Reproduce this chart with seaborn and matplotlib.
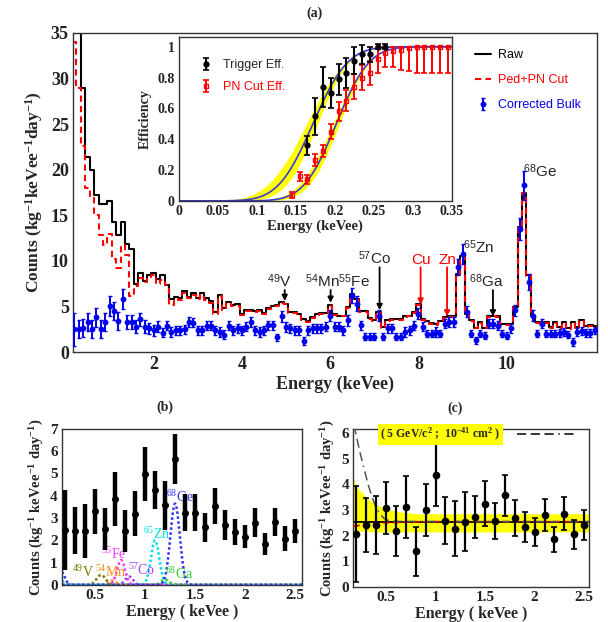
import math
import numpy as np
import pandas as pd
import matplotlib
matplotlib.use("Agg")
import matplotlib.pyplot as plt
import seaborn as sns
from matplotlib.lines import Line2D
from matplotlib.ticker import MultipleLocator, FuncFormatter, FixedLocator

# ---------------- data: panel (a) spectrum, 0.1 keVee bins ----------------
BIN_START, BIN_WIDTH, N_BINS = 0.2, 0.1, 119
raw_counts = [
    38, 38, 29, 21.4, 20.0, 17.2, 16.2, 16.2, 16.6, 14.3,
    12.8, 14.3, 11.8, 11.3, 7.5, 8.7, 7.8, 8.4, 8.7, 8.0,
    8.4, 7.4, 5.8, 6.0, 5.9, 6.7, 6.0, 6.5, 5.9, 6.5,
    5.9, 5.6, 4.4, 6.3, 4.8, 5.5, 5.2, 5.3, 4.2, 4.6,
    4.6, 4.5, 4.6, 4.3, 4.8, 5.0, 5.2, 5.5, 5.3, 4.4,
    4.4, 4.2, 3.6, 3.4, 3.8, 4.2, 4.3, 4.3, 5.2, 4.2,
    4.0, 4.0, 4.9, 6.4, 5.8, 4.5, 4.5, 3.7, 3.5, 4.4,
    2.7, 3.5, 3.6, 3.6, 3.6, 3.9, 4.0, 4.4, 5.3, 3.6,
    3.4, 3.2, 3.1, 3.4, 3.8, 3.9, 3.9, 8.6, 10.5, 4.2,
    3.5, 2.6, 3.3, 2.6, 3.9, 4.0, 3.9, 3.1, 3.1, 3.1,
    4.9, 13.7, 17.5, 8.4, 3.9, 3.3, 3.1, 3.3, 2.7, 3.3,
    2.7, 3.3, 2.6, 3.3, 2.7, 3.5, 2.9, 3.0, 2.9]
cut_counts = [
    34, 29, 22.6, 18.0, 17.0, 15.0, 12.8, 11.7, 13.0, 10.2,
    9.2, 11.7, 10.6, 6.2, 7.2, 8.1, 7.7, 8.2, 8.4, 7.5,
    7.9, 7.3, 5.2, 5.8, 5.7, 6.5, 5.9, 6.3, 5.8, 6.3,
    5.7, 5.4, 4.2, 6.1, 4.6, 5.4, 5.0, 5.1, 4.1, 4.5,
    4.5, 4.4, 4.5, 4.2, 4.7, 4.9, 5.1, 5.4, 5.3, 4.3,
    4.3, 4.1, 3.5, 3.3, 3.7, 4.1, 4.2, 4.2, 5.1, 4.1,
    3.9, 4.0, 4.8, 6.3, 5.7, 4.4, 4.4, 3.6, 3.4, 4.3,
    2.6, 3.4, 3.5, 3.5, 3.5, 3.8, 3.9, 4.3, 5.2, 3.5,
    3.3, 3.1, 3.0, 3.3, 3.7, 3.8, 3.8, 8.5, 10.4, 4.1,
    3.4, 2.6, 3.2, 2.6, 3.8, 3.9, 3.8, 3.0, 3.0, 3.0,
    4.8, 13.6, 17.4, 8.3, 3.8, 3.2, 3.1, 3.2, 2.6, 3.2,
    2.6, 3.2, 2.5, 3.2, 2.6, 3.4, 2.8, 2.9, 2.8]
bulk_counts = [
    2.5, 2.5, 2.6, 3.3, 2.5, 3.8, 2.5, 3.3, 5.0, 4.5,
    3.4, 5.8, 3.3, 3.3, 2.8, 3.6, 2.8, 2.6, 2.4, 2.8,
    2.1, 2.9, 2.2, 2.4, 2.4, 2.5, 3.3, 3.2, 2.4, 2.4,
    2.9, 2.9, 2.4, 2.2, 1.9, 2.9, 2.4, 2.6, 2.4, 2.8,
    3.3, 2.4, 2.2, 2.4, 2.95, 2.95, 1.6, 3.9, 2.75, 2.6,
    2.4, 2.4, 1.2, 2.4, 2.6, 2.6, 2.6, 2.8, 4.0, 2.8,
    2.8, 2.4, 3.5, 6.2, 5.3, 2.95, 1.7, 1.7, 1.7, 4.0,
    1.7, 2.6, 2.6, 1.7, 1.7, 2.2, 2.4, 2.9, 4.2, 2.8,
    2.0, 2.0, 2.2, 2.0, 3.1, 3.3, 3.3, 9.3, 10.8, 4.4,
    2.0, 1.3, 2.0, 1.8, 3.1, 3.1, 2.9, 2.0, 1.8, 2.6,
    4.6, 13.5, 18.3, 7.7, 4.0, 2.0, 3.1, 2.0, 2.0, 2.0,
    2.1, 2.2, 1.9, 1.1, 2.2, 2.3, 2.1, 2.1, 2.4]
bulk_err = [
    1.8, 1.0, 1.0, 1.0, 1.0, 1.0, 1.0, 1.0, 1.1, 1.0,
    1.0, 1.1, 0.8, 0.8, 0.7, 0.7, 0.7, 0.6, 0.6, 0.6,
    0.5, 0.5, 0.5, 0.5, 0.5, 0.5, 0.5, 0.5, 0.5, 0.5,
    0.5, 0.5, 0.5, 0.5, 0.5, 0.5, 0.5, 0.5, 0.5, 0.5,
    0.5, 0.5, 0.5, 0.5, 0.5, 0.5, 0.4, 0.6, 0.5, 0.5,
    0.5, 0.5, 0.4, 0.5, 0.5, 0.5, 0.5, 0.5, 0.6, 0.5,
    0.5, 0.5, 0.6, 0.8, 0.8, 0.5, 0.4, 0.4, 0.4, 0.6,
    0.4, 0.5, 0.5, 0.4, 0.4, 0.5, 0.5, 0.5, 0.6, 0.5,
    0.4, 0.4, 0.5, 0.4, 0.5, 0.5, 0.5, 0.9, 1.1, 0.6,
    0.4, 0.4, 0.4, 0.4, 0.5, 0.5, 0.5, 0.4, 0.4, 0.5,
    0.6, 1.2, 1.6, 0.9, 0.6, 0.4, 0.5, 0.4, 0.4, 0.4,
    0.4, 0.4, 0.4, 0.4, 0.4, 0.4, 0.4, 0.4, 0.4]

# ---------------- data: inset efficiencies ----------------
trig_e = [0.165, 0.175, 0.185, 0.195, 0.205, 0.215, 0.225, 0.235, 0.245, 0.255, 0.265]
trig_eff = [0.36, 0.55, 0.74, 0.70, 0.79, 0.83, 0.91, 0.95, 0.95, 1.0, 1.0]
trig_err = [0.06, 0.12, 0.13, 0.10, 0.10, 0.10, 0.09, 0.06, 0.05, 0.015, 0.015]
pn_e = [0.145, 0.155, 0.165, 0.175, 0.185, 0.195, 0.205, 0.215, 0.225, 0.235, 0.245,
        0.255, 0.265, 0.275, 0.285, 0.295, 0.305, 0.315, 0.325, 0.335, 0.345]
pn_eff = [0.04, 0.16, 0.14, 0.265, 0.325, 0.45, 0.58, 0.65, 0.74, 0.80, 0.83,
          0.92, 0.96, 0.97, 0.98, 0.99, 1.0, 1.0, 1.0, 1.0, 1.0]
pn_err_lo = [0.02, 0.03, 0.03, 0.04, 0.04, 0.05, 0.06, 0.07, 0.08, 0.08, 0.08,
             0.09, 0.09, 0.10, 0.13, 0.15, 0.17, 0.17, 0.17, 0.17, 0.17]
pn_err_hi = [0.02, 0.03, 0.03, 0.04, 0.04, 0.05, 0.06, 0.07, 0.08, 0.08, 0.08,
             0.08, 0.04, 0.03, 0.02, 0.01, 0.0, 0.0, 0.0, 0.0, 0.0]
# error-function fit parameters (mean, width) and their band limits
trig_fit = (0.172, 0.035)
trig_band = [(0.164, 0.040), (0.178, 0.032)]
pn_fit = (0.202, 0.033)
pn_band = [(0.198, 0.035), (0.206, 0.031)]

# ---------------- data: panel (b) ----------------
b_energy = [0.2, 0.3, 0.4, 0.5, 0.6, 0.7, 0.8, 0.9, 1.0, 1.1, 1.2, 1.3,
            1.4, 1.5, 1.6, 1.7, 1.8, 1.9, 2.0, 2.1, 2.2, 2.3, 2.4, 2.5]
b_counts = [2.46, 2.43, 2.43, 3.3, 2.5, 3.85, 2.43, 3.2, 4.98, 4.27, 3.58, 5.65,
            3.25, 3.25, 2.58, 3.55, 2.68, 2.38, 2.17, 2.8, 1.83, 2.83, 2.08, 2.43]
b_err = [1.8, 1.05, 1.2, 1.0, 0.95, 1.2, 0.95, 1.0, 1.2, 0.85, 1.1, 1.12,
         0.82, 0.82, 0.66, 0.8, 0.67, 0.6, 0.5, 0.64, 0.5, 0.62, 0.55, 0.55]
# L-shell X-ray peaks: centre, amplitude, width, colour
pk_center = [0.16, 0.14, 0.56, 0.67, 0.76, 0.84, 1.10, 1.20, 1.30]
pk_amp = [0.62, 0.30, 0.45, 0.20, 1.12, 0.38, 2.0, 0.25, 3.65]
pk_sigma = [0.035, 0.035, 0.045, 0.04, 0.04, 0.04, 0.042, 0.04, 0.047]
pk_color = ["#3333ff", "#00e0e0", "#7a7a00", "#ff8c1a", "#ff33ff", "#a040ff",
            "#00e0e0", "#33cc33", "#3333ff"]

# ---------------- data: panel (c) ----------------
c_energy = b_energy
c_counts = [2.08, 2.42, 2.42, 3.08, 2.18, 3.12, 1.39, 3.01, 4.37, 2.59, 2.27, 2.55,
            2.72, 3.25, 2.59, 3.57, 2.68, 2.35, 2.15, 2.82, 1.86, 2.86, 2.06, 2.42]
c_err = [1.86, 1.07, 1.14, 1.02, 0.97, 1.2, 0.97, 1.0, 1.2, 0.91, 1.07, 1.15,
         0.82, 0.87, 0.7, 0.81, 0.7, 0.58, 0.53, 0.62, 0.48, 0.64, 0.56, 0.58]
flat_bkg = 2.55
band_e = [0.17, 0.2, 0.25, 0.3, 0.35, 0.4, 0.5, 0.6, 0.7, 0.8, 2.55]
band_hi = [4.22, 3.95, 3.7, 3.5, 3.35, 3.22, 3.05, 2.95, 2.9, 2.86, 2.86]
band_lo = [2.22, 2.2, 2.18, 2.17, 2.16, 2.15, 2.15, 2.15, 2.15, 2.15, 2.15]
fit_e = [0.17, 0.25, 0.35, 0.5, 0.7, 1.0, 2.55]
fit_val = [2.36, 2.42, 2.47, 2.51, 2.53, 2.55, 2.55]
wimp_e = [0.18, 0.2, 0.22, 0.25, 0.28, 0.32, 0.36, 0.40, 0.44, 0.48, 0.52, 0.6, 2.55]
wimp_val = [6.3, 5.9, 5.55, 5.05, 4.6, 4.0, 3.5, 3.1, 2.85, 2.68, 2.6, 2.56, 2.55]

# ---------------- style ----------------
sns.set_style("white")
plt.rcParams["font.family"] = ["Liberation Serif", "DejaVu Serif"]
plt.rcParams["mathtext.fontset"] = "custom"
plt.rcParams["mathtext.rm"] = "Liberation Serif"
plt.rcParams["mathtext.bf"] = "Liberation Serif:bold"
plt.rcParams["mathtext.it"] = "Liberation Serif:italic"
plt.rcParams["mathtext.sf"] = "Liberation Sans"
SANS = ["Liberation Sans", "DejaVu Sans"]
BLUE = "#0000ee"
RED = "#ff0000"
FITBLUE = "#3a3ad8"

def gfmt(v, pos):
    return f"{v:g}"

def style_axes(ax, fs):
    for s in ax.spines.values():
        s.set_color("#333333")
        s.set_linewidth(1.0)
    ax.tick_params(which="both", direction="in", top=False, right=False,
                   labelsize=fs, colors="#222222", pad=3)
    ax.tick_params(which="major", length=7, width=0.9)
    ax.tick_params(which="minor", length=3.5, width=0.8)
    for lab in ax.get_xticklabels() + ax.get_yticklabels():
        lab.set_fontweight("bold")

fig = plt.figure(figsize=(6.08, 6.22), dpi=100)

# ======================= panel (a) =======================
ax = fig.add_axes([0.120, 0.434, 0.862, 0.513])
centers = np.round(BIN_START + BIN_WIDTH * np.arange(N_BINS), 2)
edges = [round(float(v), 3) for v in
         np.append(centers - BIN_WIDTH / 2, centers[-1] + BIN_WIDTH / 2)]
spec = pd.DataFrame({"energy": centers, "raw": raw_counts, "cut": cut_counts})
sns.histplot(data=spec, x="energy", weights="raw", bins=edges, element="step",
             fill=False, color="black", linewidth=1.5, ax=ax)
sns.histplot(data=spec, x="energy", weights="cut", bins=edges, element="step",
             fill=False, color=RED, linewidth=1.5, linestyle=(0, (3, 2)), ax=ax)
eb = ax.errorbar(centers, bulk_counts, yerr=bulk_err, fmt="o", ms=3.2, color=BLUE,
                 elinewidth=1.4, capsize=1.3, capthick=1.0, zorder=5)
ax.set_xlim(0.17, 12.05)
ax.set_ylim(0, 35)
ax.xaxis.set_major_locator(FixedLocator([2, 4, 6, 8, 10]))
ax.xaxis.set_minor_locator(MultipleLocator(0.5))
ax.yaxis.set_major_locator(MultipleLocator(5))
ax.yaxis.set_minor_locator(MultipleLocator(1))
style_axes(ax, 13)
ax.set_xlabel("Energy (keVee)", fontsize=13, fontweight="bold", labelpad=2)
ax.set_ylabel(r"Counts (kg$^{\mathbf{-1}}$keVee$^{\mathbf{-1}}$day$^{\mathbf{-1}}$)",
              fontsize=12.5, fontweight="bold", labelpad=4)

handles = [Line2D([], [], color="black", lw=1.5),
           Line2D([], [], color=RED, lw=1.5, linestyle=(0, (3, 2))), eb]
leg = ax.legend(handles, ["Raw", "Ped+PN Cut", "Corrected Bulk"], loc="upper left",
                bbox_to_anchor=(0.745, 0.985), frameon=False, handlelength=1.3,
                handletextpad=0.6, labelspacing=1.05, prop={"family": SANS, "size": 9})
for t, c in zip(leg.get_texts(), ["black", RED, BLUE]):
    t.set_color(c)

def arrow(x, y0, y1, color):
    ax.annotate("", xy=(x, y1), xytext=(x, y0),
                arrowprops=dict(arrowstyle="-|>", color=color, lw=1.3,
                                mutation_scale=8, shrinkA=0, shrinkB=0))

afs = 11
ax.text(4.85, 7.1, r"$^{\mathsf{49}}$V", fontsize=afs, ha="center", family=SANS)
arrow(4.97, 6.8, 5.6, "black")
ax.text(6.17, 7.1, r"$^{\mathsf{54}}$Mn$^{\mathsf{55}}$Fe", fontsize=afs, ha="center",
        family=SANS)
arrow(6.01, 6.8, 5.4, "black")
ax.text(7.0, 9.7, r"$^{\mathsf{57}}$Co", fontsize=afs, ha="center", family=SANS)
arrow(7.12, 9.3, 4.6, "black")
ax.text(8.05, 9.7, "Cu", fontsize=afs, ha="center", family=SANS, color=RED)
arrow(8.05, 9.3, 5.2, RED)
ax.text(8.65, 9.7, "Zn", fontsize=afs, ha="center", family=SANS, color=RED)
arrow(8.65, 9.3, 3.9, RED)
ax.text(9.36, 10.9, r"$^{\mathsf{65}}$Zn", fontsize=afs, ha="center", family=SANS)
ax.text(9.55, 7.1, r"$^{\mathsf{68}}$Ga", fontsize=afs, ha="center", family=SANS)
arrow(9.69, 6.8, 3.9, "black")
ax.text(10.75, 19.2, r"$^{\mathsf{68}}$Ge", fontsize=afs, ha="center", family=SANS)

fig.text(0.518, 0.979, "(a)", fontsize=10, fontweight="bold", ha="center", va="center")

# ======================= inset =======================
ai = fig.add_axes([0.294, 0.677, 0.449, 0.264])
egrid = np.linspace(0.0, 0.35, 351)
verf = np.vectorize(math.erf)

def cdf(mu_sig):
    mu, sig = mu_sig
    return 0.5 * (1 + verf((egrid - mu) / (sig * math.sqrt(2))))

for band in (trig_band, pn_band):
    c1, c2 = cdf(band[0]), cdf(band[1])
    ai.fill_between(egrid, np.minimum(c1, c2), np.maximum(c1, c2), color="#ffff00",
                    lw=0, zorder=1)
sns.lineplot(x=egrid, y=cdf(trig_fit), color=FITBLUE, lw=1.2, ax=ai, zorder=2)
sns.lineplot(x=egrid, y=cdf(pn_fit), color=FITBLUE, lw=1.2, ax=ai, zorder=2)
eb_pn = ai.errorbar(pn_e, pn_eff, yerr=[pn_err_lo, pn_err_hi], fmt="s", ms=3.5,
                    mfc="none", mec=RED, color=RED, elinewidth=1.4, capsize=2,
                    capthick=1.2, zorder=3)
eb_tr = ai.errorbar(trig_e, trig_eff, yerr=trig_err, fmt="o", ms=3.5, color="black",
                    elinewidth=1.5, capsize=2, capthick=1.2, zorder=4)
ai.set_xlim(0, 0.35)
ai.set_ylim(0, 1.065)
ai.xaxis.set_major_locator(MultipleLocator(0.05))
ai.xaxis.set_minor_locator(MultipleLocator(0.01))
ai.yaxis.set_major_locator(MultipleLocator(0.2))
ai.yaxis.set_minor_locator(MultipleLocator(0.05))
ai.xaxis.set_major_formatter(FuncFormatter(gfmt))
ai.yaxis.set_major_formatter(FuncFormatter(gfmt))
style_axes(ai, 10)
ai.tick_params(which="major", length=5)
ai.tick_params(which="minor", length=2.5)
ai.set_xlabel("Energy (keVee)", fontsize=10.5, fontweight="bold", labelpad=1)
ai.set_ylabel("Efficiency", fontsize=10, fontweight="bold", labelpad=4)
leg2 = ai.legend([eb_tr, eb_pn], ["Trigger Eff.", "PN Cut Eff."], loc="upper left",
                 bbox_to_anchor=(0.03, 0.93), frameon=False, handlelength=1.2,
                 labelspacing=0.8, prop={"family": SANS, "size": 9})
leg2.get_texts()[1].set_color(RED)

# ======================= panel (b) =======================
ab = fig.add_axes([0.102, 0.0595, 0.395, 0.251])
xg = np.linspace(0.17, 2.57, 600)
for c, a, s, col in zip(pk_center, pk_amp, pk_sigma, pk_color):
    sns.lineplot(x=xg, y=a * np.exp(-0.5 * ((xg - c) / s) ** 2), color=col, lw=1.8,
                 linestyle=(0, (1, 1)), ax=ab, zorder=2)
ab.errorbar(b_energy, b_counts, yerr=b_err, fmt="o", ms=4, color="black",
            elinewidth=3.2, capsize=0, zorder=4)
ab.set_xlim(0.17, 2.57)
ab.set_ylim(0, 7)
ab.xaxis.set_major_locator(MultipleLocator(0.5))
ab.xaxis.set_minor_locator(MultipleLocator(0.1))
ab.yaxis.set_major_locator(MultipleLocator(1))
ab.yaxis.set_minor_locator(MultipleLocator(0.2))
ab.xaxis.set_major_formatter(FuncFormatter(gfmt))
style_axes(ab, 11)
ab.tick_params(which="major", length=6)
ab.tick_params(which="minor", length=3)
ab.set_xlabel("Energy ( keVee )", fontsize=11.5, fontweight="bold", labelpad=1)
ab.set_ylabel(r"Counts (kg$^{\mathbf{-1}}$ keVee$^{\mathbf{-1}}$ day$^{\mathbf{-1}}$)",
              fontsize=10.5, fontweight="bold", labelpad=3)
blab = [("$^{49}$V", 0.38, 0.38, "#7a7a00"), ("$^{54}$Mn", 0.66, 0.38, "#ff8c1a"),
        ("$^{55}$Fe", 0.69, 1.15, "#ff33ff"), ("$^{57}$Co", 0.97, 0.45, "#a040ff"),
        ("$^{65}$Zn", 1.12, 2.05, "#00e0e0"), ("$^{68}$Ga", 1.34, 0.25, "#33cc33"),
        ("$^{68}$Ge", 1.35, 3.7, "#3333ff")]
for txt, x, y, col in blab:
    ab.text(x, y, txt, color=col, fontsize=10, ha="center", va="baseline")
fig.text(0.271, 0.346, "(b)", fontsize=10, fontweight="bold", ha="center", va="center")

# ======================= panel (c) =======================
ac = fig.add_axes([0.581, 0.056, 0.388, 0.254])
ac.fill_between(band_e, band_lo, band_hi, color="#ffff00", lw=0, zorder=1)
ac.axhline(flat_bkg, color="black", lw=1.3, zorder=2)
sns.lineplot(x=fit_e, y=fit_val, color=RED, lw=1.2, linestyle=(0, (4, 2)), ax=ac,
             zorder=3)
sns.lineplot(x=wimp_e, y=wimp_val, color="#555555", lw=1.1,
             linestyle=(0, (6, 3, 6, 3, 6, 3, 1, 3)), ax=ac, zorder=3)
ac.errorbar(c_energy, c_counts, yerr=c_err, fmt="o", ms=4.5, color="black",
            elinewidth=1.6, capsize=2.5, capthick=1.2, zorder=4)
ac.set_xlim(0.17, 2.55)
ac.set_ylim(0, 6.15)
ac.xaxis.set_major_locator(MultipleLocator(0.5))
ac.xaxis.set_minor_locator(MultipleLocator(0.1))
ac.yaxis.set_major_locator(MultipleLocator(1))
ac.yaxis.set_minor_locator(MultipleLocator(0.2))
ac.xaxis.set_major_formatter(FuncFormatter(gfmt))
style_axes(ac, 11)
ac.tick_params(which="major", length=6)
ac.tick_params(which="minor", length=3)
ac.set_xlabel("Energy ( keVee )", fontsize=11.5, fontweight="bold", labelpad=1)
ac.set_ylabel(r"Counts (kg$^{\mathbf{-1}}$ keVee$^{\mathbf{-1}}$ day$^{\mathbf{-1}}$)",
              fontsize=10.5, fontweight="bold", labelpad=3)
wl = Line2D([], [], color="black", lw=1.1, linestyle=(0, (6, 3, 6, 3, 6, 3, 1, 3)))
leg3 = ac.legend([wl], [r"( 5 GeV/c$^{\mathbf{2}}$ ;  10$^{\mathbf{-41}}$ cm$^{\mathbf{2}}$ )"],
                 loc="center left", bbox_to_anchor=(0.09, 0.965), frameon=False,
                 markerfirst=False, handlelength=4.8, borderpad=0, handletextpad=1.4,
                 prop={"size": 8.5, "weight": "bold"})
leg3.get_texts()[0].set_bbox(dict(facecolor="#ffff00", edgecolor="none", pad=1.5))
fig.text(0.748, 0.343, "(c)", fontsize=10, fontweight="bold", ha="center", va="center")

fig.savefig("out.png", dpi=100)
